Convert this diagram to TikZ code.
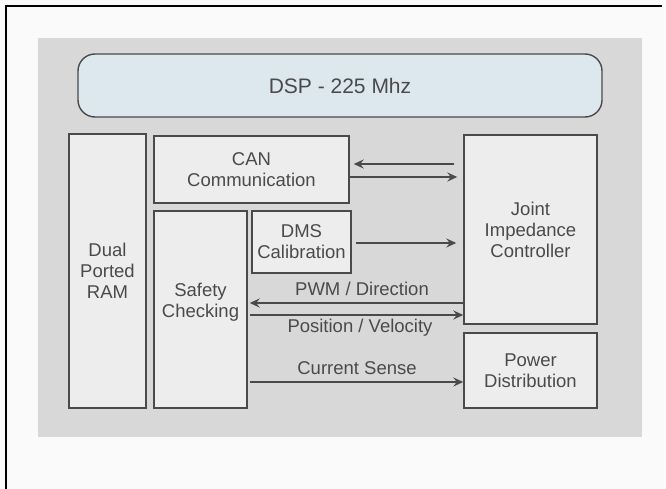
\documentclass[tikz,border=0pt]{standalone}
\usepackage{fontspec}
\setmainfont{Liberation Sans}
\usetikzlibrary{calc,arrows.meta}

\definecolor{panelgrey}{HTML}{D8D8D8}
\definecolor{boxgrey}{HTML}{EDEDED}
\definecolor{dspblue}{HTML}{DCE8EE}
\definecolor{linegrey}{HTML}{4A4A4A}
\definecolor{textgrey}{HTML}{4A4A4A}

\tikzset{
  blk/.style={draw=linegrey,line width=1.4pt,fill=boxgrey,align=center,
    text=textgrey,inner sep=0pt,font=\fontsize{18.5}{21}\selectfont},
  lbl/.style={text=textgrey,inner sep=0pt,text height=13pt,text depth=0pt,
    font=\fontsize{18.5}{21}\selectfont},
  arr/.style={draw=linegrey,line width=1.6pt,
    -{Stealth[length=10pt,width=9pt,inset=3.5pt]}}
}

\begin{document}
\begin{tikzpicture}[x=1pt,y=-1pt]
\useasboundingbox (0,0) rectangle (666,489);
\fill[white!98!black] (0,0) rectangle (666,489);
\draw[black,line width=2pt] (6,489) -- (6,6) -- (662,6);
\fill[panelgrey] (38,38) rectangle (642,437);

\node[blk,fill=dspblue,rounded corners=17pt,minimum width=524pt,minimum height=63pt,
  font=\fontsize{21}{24}\selectfont] (dsp) at (340,85.5) {DSP - 225 Mhz};
\node[blk,minimum width=77pt,minimum height=274pt] (ram) at (107.5,271) {Dual\\Ported\\RAM};
\node[blk,minimum width=195pt,minimum height=67pt] (can) at (251.5,169.5) {CAN\\Communication};
\node[blk,minimum width=93pt,minimum height=197pt] (safety) at (200.5,309.5) {};
\node[lbl,text height=,text depth=,align=center] (safetytxt) at ($(safety)+(0,-7)$) {Safety\\Checking};
\node[blk,minimum width=99pt,minimum height=62pt] (dms) at (301.5,242) {DMS\\Calibration};
\node[blk,minimum width=133pt,minimum height=189pt] (joint) at (530.5,229.5) {Joint\\Impedance\\Controller};
\node[blk,minimum width=133pt,minimum height=75pt] (power) at (530.5,370.5) {Power\\Distribution};

% connections
\draw[arr] ($(joint.west |- can.east)+(-9,-5.5)$) -- ($(can.east)+(4,-5.5)$);
\draw[arr] ($(can.east)+(0,7.5)$) -- ($(joint.west |- can.east)+(-6,7.5)$);
\draw[arr] ($(dms.east)+(4,1)$) -- ($(joint.west |- dms.east)+(-7,1)$);
\draw[arr] ($(joint.west |- safety.east)+(0,-6.5)$) -- ($(safety.east)+(2,-6.5)$);
\draw[arr] ($(safety.east)+(2,5.5)$) -- ($(joint.west |- safety.east)+(0,5.5)$);
\draw[arr] ($(safety.east |- power.west)+(2,11.5)$) -- ($(power.west)+(0,11.5)$);

\node[lbl] (pwm) at (362,289) {PWM / Direction};
\node[lbl] (posvel) at (360,326) {Position / Velocity};
\node[lbl] (current) at (357,368) {Current Sense};
\end{tikzpicture}
\end{document}
